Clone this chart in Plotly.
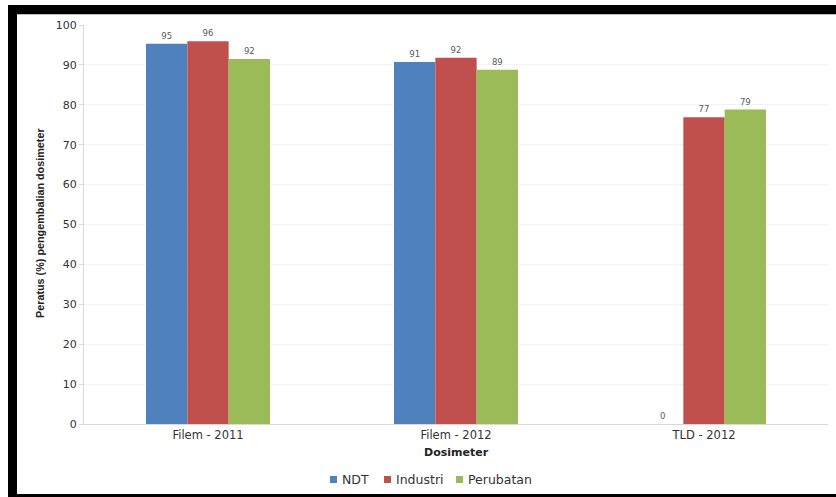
import plotly.graph_objects as go

categories = ["Filem - 2011", "Filem - 2012", "TLD - 2012"]
ndt = [95.3, 90.7, 0]
industri = [95.9, 91.8, 76.9]
perubatan = [91.5, 88.8, 78.8]

series_names = ["NDT", "Industri", "Perubatan"]
series_values = [ndt, industri, perubatan]
series_colors = ["#4F81BD", "#C0504D", "#9BBB59"]

W, H = 836, 497
L, R, T, B = 84, 8, 25, 73
pw, ph = W - L - R, H - T - B


def px_x(x):
    return (x - L) / pw


def px_y(y):
    return (H - B - y) / ph


fig = go.Figure()
for name, vals, color in zip(series_names, series_values, series_colors):
    fig.add_trace(go.Bar(
        name=name, x=categories, y=vals,
        marker=dict(color=color, line=dict(width=0)),
        texttemplate="%{y:.0f}", textposition="outside",
        textfont=dict(family="DejaVu Sans", size=8.5, color="#595959"),
        cliponaxis=False, showlegend=False,
    ))

# black frame around the chart
frame = [
    (px_x(8), px_y(5), px_x(836), px_y(14)),
    (px_x(8), px_y(5), px_x(17), px_y(497)),
    (px_x(8), px_y(494), px_x(836), px_y(497)),
]
shapes = [dict(type="rect", xref="paper", yref="paper", x0=a, y0=b, x1=c, y1=d,
               fillcolor="black", line=dict(width=0), layer="above")
          for a, b, c, d in frame]
shapes.append(dict(type="line", xref="paper", yref="paper",
                   x0=px_x(17), x1=px_x(836), y0=px_y(14.5), y1=px_y(14.5),
                   line=dict(color="#bbbbbb", width=1)))

annotations = [
    dict(text="<b>Dosimeter</b>", xref="paper", yref="paper",
         x=px_x(456), y=px_y(452), xanchor="center", yanchor="middle",
         showarrow=False,
         font=dict(family="DejaVu Sans", size=11, color="#222222")),
    dict(text="<b>Peratus (%) pengembalian dosimeter</b>", xref="paper",
         yref="paper", x=px_x(40), y=px_y(223), textangle=-90,
         xanchor="center", yanchor="middle", showarrow=False,
         font=dict(family="Liberation Sans", size=10.8, color="#222222")),
]

# legend: small colour keys followed by the series names
legend_key_x = [330, 384, 456]
legend_y = 479.5
for name, color, kx in zip(series_names, series_colors, legend_key_x):
    shapes.append(dict(type="rect", xref="paper", yref="paper",
                       x0=px_x(kx), x1=px_x(kx + 7),
                       y0=px_y(legend_y - 3.5), y1=px_y(legend_y + 3.5),
                       fillcolor=color, line=dict(width=0)))
    annotations.append(dict(text=name, xref="paper", yref="paper",
                            x=px_x(kx + 10), y=px_y(legend_y),
                            xanchor="left", yanchor="middle", showarrow=False,
                            font=dict(family="DejaVu Sans", size=12.5,
                                      color="#333333")))

fig.update_layout(
    width=W, height=H,
    margin=dict(l=L, r=R, t=T, b=B),
    paper_bgcolor="white", plot_bgcolor="white",
    barmode="group", bargap=0.5, bargroupgap=0,
    font=dict(family="DejaVu Sans", size=11, color="#333333"),
    showlegend=False,
    xaxis=dict(showline=True, linecolor="#d9d9d9", linewidth=1,
               showgrid=False, ticks="", tickfont=dict(size=11.5)),
    yaxis=dict(range=[0, 100], dtick=10, showline=True, linecolor="#d9d9d9",
               linewidth=1, gridcolor="#f2f2f2", gridwidth=1,
               ticks="outside", ticklen=4, tickcolor="#d9d9d9",
               tickfont=dict(size=11), zeroline=False),
    shapes=shapes,
    annotations=annotations,
)

fig.write_html("out.html")
